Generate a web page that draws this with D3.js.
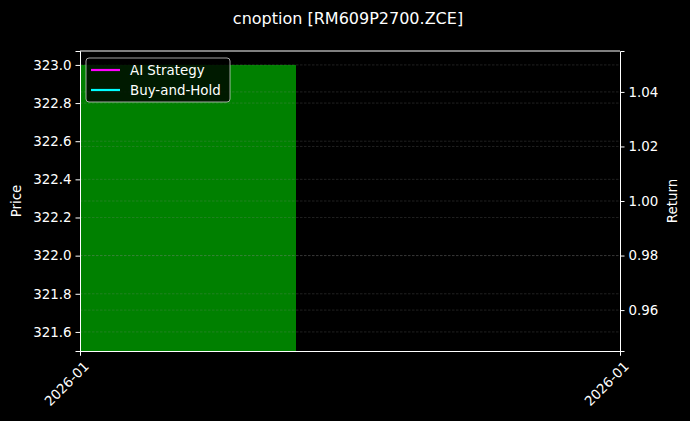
<!DOCTYPE html>
<html>
<head>
<meta charset="utf-8">
<script src="https://cdn.jsdelivr.net/npm/d3@7"></script>
<style>
  body { margin: 0; background: #000; }
  svg { display: block; font-family: "DejaVu Sans", sans-serif; }
</style>
</head>
<body>
<div id="chart"></div>
<script>
// chart data
var title = "cnoption [RM609P2700.ZCE]";
var dateRange = ["2026-01-05", "2026-01-10"];
var signalStart = ["2026-01-05"];
var signalEnd = ["2026-01-07"];
var signalPrice = [323.0];
var priceDomain = [321.5, 323.073];
var returnDomain = [0.945, 1.055];
var priceTicks = [321.6, 321.8, 322.0, 322.2, 322.4, 322.6, 322.8, 323.0];
var returnTicks = [0.96, 0.98, 1.00, 1.02, 1.04];
var xTicks = ["2026-01-05", "2026-01-10"];
var seriesNames = ["AI Strategy", "Buy-and-Hold"];
var seriesColors = ["#ff00ff", "#00ffff"];
var aiReturn = [1.0];
var holdReturn = [1.0];

var width = 690, height = 421;
var margin = { top: 51, right: 70, bottom: 70, left: 80 };
var parse = d3.timeParse("%Y-%m-%d");
var fs = 13.4; // ~10pt at 100dpi

var svg = d3.select("#chart").append("svg")
  .attr("width", width).attr("height", height);
svg.append("rect").attr("width", width).attr("height", height).attr("fill", "#000");

var x = d3.scaleTime()
  .domain(dateRange.map(parse))
  .range([margin.left, width - margin.right]);
var y = d3.scaleLinear().domain(priceDomain).range([height - margin.bottom, margin.top]);
var y2 = d3.scaleLinear().domain(returnDomain).range([height - margin.bottom, margin.top]);

// green signal area
svg.selectAll("rect.signal").data(signalPrice).enter().append("rect")
  .attr("class", "signal")
  .attr("x", function(d, i) { return x(parse(signalStart[i])); })
  .attr("width", function(d, i) { return x(parse(signalEnd[i])) - x(parse(signalStart[i])); })
  .attr("y", function(d) { return y(d); })
  .attr("height", function(d) { return y(priceDomain[0]) - y(d); })
  .attr("fill", "#008000");

// grid lines
var grid = svg.append("g").attr("stroke", "#888").attr("stroke-opacity", 0.4)
  .attr("stroke-width", 0.6).attr("stroke-dasharray", "2.5,1.5");
grid.selectAll("line.g1").data(priceTicks).enter().append("line")
  .attr("x1", margin.left).attr("x2", width - margin.right)
  .attr("y1", function(d) { return y(d); }).attr("y2", function(d) { return y(d); });
grid.selectAll("line.g2").data(returnTicks).enter().append("line")
  .attr("x1", margin.left).attr("x2", width - margin.right)
  .attr("y1", function(d) { return y2(d); }).attr("y2", function(d) { return y2(d); });

// return lines (single point each, so nothing visible)
var line = d3.line()
  .x(function(d, i) { return x(parse(dateRange[0])); })
  .y(function(d) { return y2(d); });
[aiReturn, holdReturn].forEach(function(s, i) {
  svg.append("path").datum(s).attr("d", line)
    .attr("fill", "none").attr("stroke", seriesColors[i]).attr("stroke-width", 2);
});

// axes
function styleAxis(g) {
  g.selectAll("path").attr("stroke", "#fff");
  g.selectAll("line").attr("stroke", "#fff");
  g.selectAll("text").attr("fill", "#fff").attr("font-size", fs)
    .attr("font-family", "DejaVu Sans");
}
svg.append("g")
  .attr("transform", "translate(" + margin.left + ",0)")
  .call(d3.axisLeft(y).tickValues(priceTicks).tickFormat(d3.format(".1f")).tickSize(4.5).tickPadding(4))
  .call(styleAxis);
svg.append("g")
  .attr("transform", "translate(" + (width - margin.right) + ",0)")
  .call(d3.axisRight(y2).tickValues(returnTicks).tickFormat(d3.format(".2f")).tickSize(4.5).tickPadding(4))
  .call(styleAxis);
var xg = svg.append("g")
  .attr("transform", "translate(0," + (height - margin.bottom) + ")")
  .call(d3.axisBottom(x).tickValues(xTicks.map(parse)).tickFormat(d3.timeFormat("%Y-%m")).tickSize(4.5))
  .call(styleAxis);
xg.selectAll("text")
  .attr("text-anchor", "end")
  .attr("dx", 0).attr("dy", 0)
  .attr("transform", "translate(4,11) rotate(-45)");
svg.append("line").attr("x1", margin.left).attr("x2", width - margin.right)
  .attr("y1", margin.top).attr("y2", margin.top).attr("stroke", "#fff");

// labels
svg.append("text").attr("x", 348).attr("y", 24).attr("text-anchor", "middle")
  .attr("fill", "#fff").attr("font-size", 16).text(title);
svg.append("text").attr("transform", "translate(21," + (margin.top + 150) + ") rotate(-90)")
  .attr("text-anchor", "middle").attr("fill", "#fff").attr("font-size", fs).text("Price");
svg.append("text").attr("transform", "translate(677," + (margin.top + 150) + ") rotate(-90)")
  .attr("text-anchor", "middle").attr("fill", "#fff").attr("font-size", fs).text("Return");

// legend
var leg = svg.append("g").attr("transform", "translate(86,58)");
leg.append("rect").attr("width", 144).attr("height", 44).attr("rx", 3)
  .attr("fill", "#000").attr("fill-opacity", 0.8).attr("stroke", "#ccc").attr("stroke-width", 0.8);
seriesNames.forEach(function(n, i) {
  leg.append("line").attr("x1", 5).attr("x2", 34).attr("y1", 12 + i * 20).attr("y2", 12 + i * 20)
    .attr("stroke", seriesColors[i]).attr("stroke-width", 2.2);
  leg.append("text").attr("x", 44).attr("y", 17 + i * 20).attr("fill", "#fff")
    .attr("font-size", fs).text(n);
});
</script>
</body>
</html>
